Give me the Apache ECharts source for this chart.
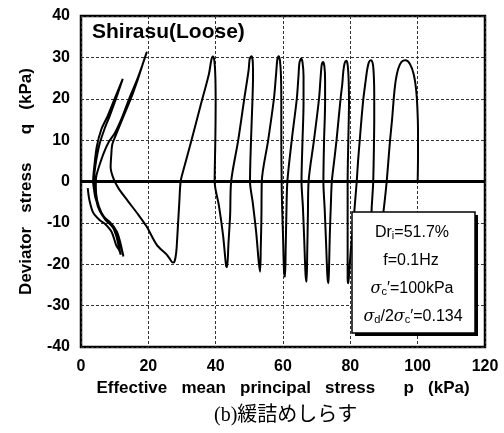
<!DOCTYPE html>
<html>
<head>
<meta charset="utf-8">
<script src="https://cdn.jsdelivr.net/npm/echarts@6/dist/echarts.min.js"></script>
<style>
html,body{margin:0;padding:0;background:#fff;}
#chart{width:504px;height:433px;}
</style>
</head>
<body>
<div id="chart"></div>
<script>
// Effective mean principal stress p (kPa) vs deviator stress q (kPa)
const xTicks = [0, 20, 40, 60, 80, 100, 120];
const yTicks = [-40, -30, -20, -10, 0, 10, 20, 30, 40];

// Cyclic stress path, loops from p=100 down to p~40
const pathHighLoops = [
  [100,0],[100.1,6],[100.1,12],[99.9,18],[99.5,22.5],[98.8,26],[97.7,28.4],[96.4,29.3],[95.2,28.9],[94.2,27.2],[93.5,24.5],[93,21],[92.4,15],[91.8,10],[91.3,5],[90.8,0],[90.3,-4],[89.8,-7.5],[89,-13],[88,-19.5],[87.3,-24.2],[86.7,-22],[86.4,-15],[86.3,-7.5],[86.6,-3],[86.8,0],
  [87,8],[87.1,15],[87.1,21],[87,25],[86.7,28.3],[86.1,29.3],[85.5,28.8],[85,27],[84.5,24],[83.9,20.2],[83.3,15],[82.8,10],[82.3,5],[81.9,0],[81.5,-4],[80.9,-10],[80.2,-16],[79.7,-21.5],[79.4,-24.6],[79.2,-23.5],[79.2,-15],[79.2,-7],[79.2,0],
  [79.4,10],[79.6,19],[79.5,24.5],[79.2,28.2],[78.8,29.2],[78.3,28.6],[77.9,26.5],[77.6,23.5],[77.1,20],[75.9,10],[75.2,5],[74.5,0],[74.2,-6],[73.9,-13],[73.7,-20],[73.5,-24.6],[73.2,-23],[72.8,-15],[72.4,-7],[72,0],
  [72.2,10],[72.5,19],[72.5,24.5],[72.3,27.8],[71.9,28.9],[71.5,28.2],[71.2,25.5],[70.7,20],[69.2,10],[67.6,0],[67.4,-8],[67.2,-17],[67,-24.2],[66.7,-22.5],[66.3,-14],[65.9,-6],[65.5,0],
  [65.8,10],[66.1,19],[66.1,25.5],[65.8,28.8],[65.4,29.7],[64.9,28.8],[64.6,25.5],[64.1,20],[62.6,10],[61.3,0],[61,-8],[60.8,-16],[60.6,-23],[60.3,-21.5],[60,-13],[59.7,-5],[59.6,0],
  [59.5,10],[59.5,19],[59.4,25.5],[59.1,29.2],[58.7,30.3],[58.3,29.4],[58,26.5],[57.3,20],[55.6,10],[53.7,0],[53.6,-8],[53.4,-16],[53.2,-21.8],[52.8,-19.5],[52,-12],[51,-5],[50.2,0],
  [50.5,10],[50.9,19],[51.1,25.5],[51,29.2],[50.6,30.3],[50.1,29.6],[49.8,27],[48.5,20],[46.7,10],[44.6,0],[44.3,-8],[43.8,-15],[43.4,-20.7],[43.1,-20.4],[42.2,-13],[41,-6],[39.7,0],
  [39.9,10],[40,19],[39.9,25.5],[39.6,29.3],[39.2,30.2],[38.7,29.3],[38,26],[35.4,18],[32.5,9],[30.5,3],[29.6,0],[29.2,-5],[28.7,-12],[28.3,-17],[27.8,-19.3],[27.3,-19.6],[26.3,-18.6],[25.4,-17.6],[22.5,-15.3],[19.5,-10.9],[17,-8],[14,-4.8],[11.1,-1.6],[9.6,0.8],[8.8,3.5],[9,6.5]
];

// Final cycles near p ~ 0 (cyclic mobility)
const pathLowCycles = [
  [9.3,9],[10.5,11.5],[12.5,15.5],[14.8,20],[17,25],[18.6,29],[19.5,31.2],[18.3,28.3],[16.6,24.5],[14.3,20],[12.2,15.5],[10.1,11.8],[8.2,9.5],[6.8,7],[5.5,4],[4.6,1.5],[4.4,0],
  [4.5,-3],[5.3,-6],[6.8,-8.5],[8.8,-10],[10.2,-11.5],[11.2,-14],[12.1,-16.5],[12.6,-18.1],[12.3,-17],[11.6,-14.5],[10.6,-12],[9.1,-10.7],[7.2,-9.2],[5.6,-7],[4.3,-4],[3.7,-1],[3.6,0],
  [4,4],[4.7,8.5],[6,12.5],[8,16],[10,20],[12.4,24.8],[10.6,20.5],[8.6,16],[6.9,12.5],[5.5,9],[4.5,5],[4,2],[3.9,0],
  [4.2,-3],[5,-6],[6.2,-8],[8,-9.8],[9.6,-11.3],[10.6,-13.5],[11.3,-16],[11.8,-17.7],[11.3,-16.5],[10.5,-15.5],[9.1,-12.2],[7.1,-10.2],[5.5,-9.3],[3.6,-7.5],[2.5,-4.5],[2,-1.6]
];

const zeroLevel = 0;
const titleText = 'Shirasu(Loose)';
const captionText = '(b)緩詰めしらす';
const xName = 'Effective   mean   principal   stress      p   (kPa)';
const yName = 'Deviator   stress      q   (kPa)';

const SANS = '"Liberation Sans", Arial, Helvetica, sans-serif';

const chart = echarts.init(document.getElementById('chart'), null, {renderer: 'canvas'});
chart.setOption({
  backgroundColor: '#fff',
  animation: false,
  title: {
    text: captionText,
    left: 209, top: 401,
    textStyle: {fontSize: 20, fontWeight: 'normal', color: '#000', fontFamily: '"Liberation Serif", "Noto Sans CJK JP", serif'}
  },
  grid: {left: 81, right: 19, top: 16, bottom: 86, show: true, borderColor: '#000', borderWidth: 2.5, backgroundColor: 'transparent'},
  xAxis: {
    type: 'value', min: xTicks[0], max: xTicks[xTicks.length - 1], interval: 20,
    axisLine: {show: false, onZero: false}, axisTick: {show: false},
    splitLine: {show: true, lineStyle: {type: [3, 2], color: '#333', width: 1}},
    axisLabel: {margin: 12, fontSize: 16, fontWeight: 'bold', color: '#000', fontFamily: SANS},
    name: xName, nameLocation: 'middle', nameGap: 31,
    nameTextStyle: {fontSize: 17, fontWeight: 'bold', color: '#000', fontFamily: SANS}
  },
  yAxis: {
    type: 'value', min: yTicks[0], max: yTicks[yTicks.length - 1], interval: 10,
    axisLine: {show: false}, axisTick: {show: false},
    splitLine: {show: true, lineStyle: {type: [3, 2], color: '#333', width: 1}},
    axisLabel: {margin: 11, fontSize: 16, fontWeight: 'bold', color: '#000', fontFamily: SANS},
    name: yName, nameLocation: 'middle', nameGap: 46, nameRotate: 90,
    nameTextStyle: {fontSize: 17, fontWeight: 'bold', color: '#000', fontFamily: SANS}
  },
  series: [{
    type: 'line',
    data: pathHighLoops.concat(pathLowCycles),
    showSymbol: false,
    smooth: 0.3,
    lineStyle: {color: '#000', width: 2},
    markLine: {
      silent: true, symbol: 'none', label: {show: false},
      lineStyle: {color: '#000', width: 3, type: 'solid'},
      data: [{yAxis: zeroLevel}]
    }
  }],
  graphic: [
    {type: 'text', z: 100, left: 92, top: 22,
     style: {text: titleText, font: 'bold 21px ' + SANS, fill: '#000'}},
    {type: 'rect', z: 100, shape: {x: 355, y: 215, width: 123, height: 121}, style: {fill: '#000'}},
    {type: 'rect', z: 101, shape: {x: 352, y: 212, width: 123, height: 121}, style: {fill: '#fff', stroke: '#000', lineWidth: 1.5}},
    {type: 'text', z: 102, x: 412, y: 233,
     style: {text: '{a|Dr}{s|i}{a|=51.7%}', align: 'center', verticalAlign: 'middle',
       rich: {a: {font: '16px ' + SANS, fill: '#000'}, s: {font: '11px ' + SANS, fill: '#000', verticalAlign: 'bottom', padding: [6, 0, 0, 0]}}}},
    {type: 'text', z: 102, x: 411, y: 261,
     style: {text: 'f=0.1Hz', align: 'center', verticalAlign: 'middle', font: '16px ' + SANS, fill: '#000'}},
    {type: 'text', z: 102, x: 412, y: 289,
     style: {text: '{g|σ}{s|c}{a|\u2032=100kPa}', align: 'center', verticalAlign: 'middle',
       rich: {a: {font: '16px ' + SANS, fill: '#000'}, g: {font: 'italic 16px "DejaVu Serif", serif', fill: '#000'}, s: {font: '11px ' + SANS, fill: '#000', padding: [6, 0, 0, 0]}}}},
    {type: 'text', z: 102, x: 413, y: 317,
     style: {text: '{g|σ}{s|d}{a|/2}{g|σ}{s|c}{a|\u2032=0.134}', align: 'center', verticalAlign: 'middle',
       rich: {a: {font: '16px ' + SANS, fill: '#000'}, g: {font: 'italic 16px "DejaVu Serif", serif', fill: '#000'}, s: {font: '11px ' + SANS, fill: '#000', padding: [6, 0, 0, 0]}}}}
  ]
});
</script>
</body>
</html>
